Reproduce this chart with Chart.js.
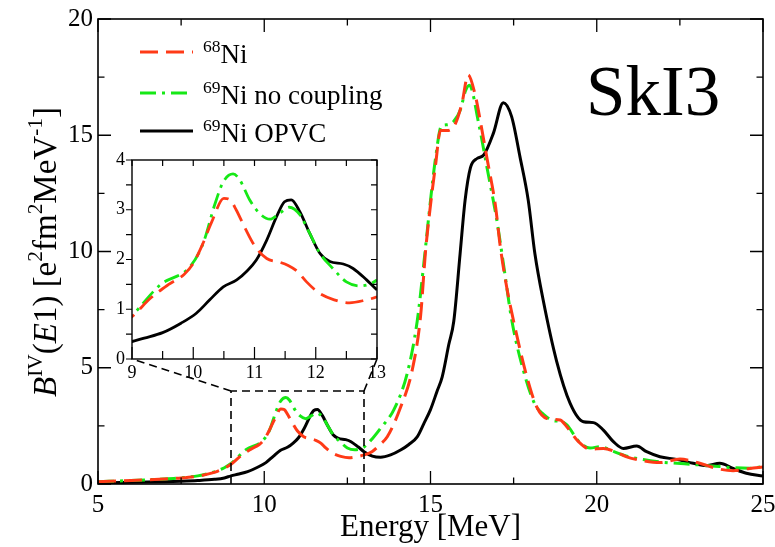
<!DOCTYPE html>
<html>
<head>
<meta charset="utf-8">
<script src="https://cdn.jsdelivr.net/npm/chart.js@4"></script>
<style>
  html, body { margin: 0; padding: 0; background: #fff; }
  #wrap { position: relative; width: 775px; height: 547px; }
  #main { position: absolute; left: 0; top: 0; }
  #inset { position: absolute; left: 100px; top: 150px; }
</style>
</head>
<body>
<div id="wrap">
  <canvas id="main" width="775" height="547"></canvas>
  <canvas id="inset" width="290" height="235"></canvas>
</div>
<script>
/* ===== DATA ===== */
// 68Ni, red dashed
const E_NI68 = [5, 6, 7, 7.5, 8, 8.5, 8.8, 9, 9.3, 9.6, 9.85, 10, 10.15, 10.3, 10.5, 10.6, 10.7, 10.85, 11, 11.2, 11.4, 11.55, 11.7, 11.85, 12.05, 12.3, 12.55, 12.8, 13, 13.25, 13.5, 13.7, 14.1, 14.45, 14.7, 14.85, 15.0, 15.15, 15.3, 15.5, 15.75, 15.95, 16.13, 16.35, 16.5, 16.7, 16.95, 17.1, 17.3, 17.5, 17.9, 18.2, 18.5, 18.9, 19.1, 19.45, 19.8, 20.2, 20.55, 20.9, 21.4, 21.9, 22.5, 23.1, 23.6, 24.1, 24.6, 25];
const B_NI68 = [0.1, 0.15, 0.22, 0.26, 0.34, 0.5, 0.68, 0.85, 1.22, 1.5, 1.7, 1.92, 2.3, 2.75, 3.23, 3.2, 3.0, 2.62, 2.28, 2.02, 1.95, 1.88, 1.76, 1.55, 1.33, 1.19, 1.13, 1.18, 1.25, 1.4, 1.72, 2.03, 3.3, 4.9, 7.2, 10.0, 12.0, 13.7, 15.2, 15.2, 15.5, 16.4, 17.6, 16.7, 15.6, 14.0, 12.0, 10.2, 8.4, 7.0, 4.6, 3.3, 2.82, 2.75, 2.46, 1.82, 1.5, 1.53, 1.39, 1.17, 1.0, 0.92, 1.07, 0.89, 0.67, 0.57, 0.67, 0.73];

// 69Ni no coupling, green dash-dot
const E_NI69_NC = [5, 6, 7, 7.5, 8, 8.5, 8.8, 9, 9.46, 9.95, 10.16, 10.35, 10.49, 10.65, 10.76, 10.92, 11.08, 11.25, 11.41, 11.57, 11.74, 11.9, 12.07, 12.28, 12.5, 12.72, 13, 13.25, 13.5, 13.9, 14.3, 14.6, 14.8, 15.0, 15.15, 15.33, 15.5, 15.7, 15.9, 16.05, 16.17, 16.45, 16.7, 17.0, 17.2, 17.45, 17.85, 18.15, 18.4, 18.7, 18.9, 19.1, 19.45, 19.8, 20.1, 20.5, 20.9, 21.4, 21.9, 22.3, 22.8, 23.3, 23.7, 24.1, 24.6, 25];
const B_NI69_NC = [0.1, 0.15, 0.22, 0.27, 0.35, 0.52, 0.7, 0.88, 1.49, 1.86, 2.32, 3.1, 3.56, 3.72, 3.6, 3.2, 2.93, 2.81, 2.93, 3.05, 2.9, 2.53, 2.12, 1.82, 1.55, 1.47, 1.59, 1.95, 2.4, 3.2, 4.76, 7.0, 9.5, 12.2, 14.0, 15.4, 15.45, 15.6, 16.1, 16.9, 17.15, 15.5, 13.6, 11.3, 9.4, 7.0, 4.6, 3.4, 3.0, 2.72, 2.7, 2.55, 1.85, 1.55, 1.6, 1.4, 1.2, 1.05, 0.95, 0.9, 0.85, 0.8, 0.75, 0.7, 0.68, 0.75];

// 69Ni OPVC, black solid
const E_NI69_OPVC = [5, 6, 7, 7.5, 8, 8.5, 8.8, 9, 9.2, 9.5, 9.8, 10.05, 10.27, 10.49, 10.71, 10.87, 11.03, 11.2, 11.36, 11.49, 11.6, 11.74, 11.9, 12.07, 12.23, 12.45, 12.61, 12.83, 13, 13.25, 13.5, 13.8, 14.1, 14.35, 14.6, 14.8, 15.0, 15.2, 15.35, 15.55, 15.7, 15.89, 16.04, 16.2, 16.4, 16.6, 16.89, 17.19, 17.44, 17.69, 17.94, 18.14, 18.39, 18.79, 19.2, 19.6, 19.9, 20.2, 20.5, 20.8, 21.2, 21.5, 21.9, 22.4, 22.9, 23.3, 23.7, 24.1, 24.5, 25];
const B_NI69_OPVC = [0.05, 0.07, 0.1, 0.12, 0.15, 0.2, 0.26, 0.35, 0.42, 0.53, 0.72, 0.92, 1.19, 1.45, 1.59, 1.76, 1.99, 2.39, 2.86, 3.16, 3.2, 2.96, 2.53, 2.12, 1.96, 1.91, 1.82, 1.59, 1.39, 1.2, 1.15, 1.25, 1.46, 1.7, 2.03, 2.6, 3.2, 4.0, 4.6, 6.0, 7.0, 9.9, 12.2, 13.6, 14.0, 14.15, 15.08, 16.4, 15.8, 14.08, 12.2, 9.9, 7.9, 5.3, 3.47, 2.68, 2.64, 2.32, 1.82, 1.53, 1.63, 1.39, 1.17, 1.06, 0.89, 0.79, 0.89, 0.67, 0.46, 0.34];

// axes
const MAIN_X_TICKS = [5, 10, 15, 20, 25];
const MAIN_Y_TICKS = [0, 5, 10, 15, 20];
const INSET_X_TICKS = [9, 10, 11, 12, 13];
const INSET_Y_TICKS = [0, 1, 2, 3, 4];
const ZOOM_BOX = { xMin: 9, xMax: 13, yMin: 0, yMax: 4 };

/* ===== STYLE ===== */
const SERIF = '"Liberation Serif", "Times New Roman", Times, serif';
const RED = "#ff3a17";
const GREEN = "#16e816";
const BLACK = "#000000";
const DASH_RED = [18, 8];
const DASH_GREEN = [16, 6, 3, 6];

function pts(xs, ys) {
  return xs.map((x, i) => ({ x, y: ys[i] }));
}

function makeDatasets(lw) {
  return [
    { label: "68Ni", data: pts(E_NI68, B_NI68), borderColor: RED, borderDash: DASH_RED, borderWidth: lw },
    { label: "69Ni no coupling", data: pts(E_NI69_NC, B_NI69_NC), borderColor: GREEN, borderDash: DASH_GREEN, borderWidth: lw },
    { label: "69Ni OPVC", data: pts(E_NI69_OPVC, B_NI69_OPVC), borderColor: BLACK, borderWidth: lw },
  ].map((d) => Object.assign(d, { pointRadius: 0, fill: false, cubicInterpolationMode: "monotone" }));
}

/* ===== HELPERS ===== */
// draw text made of parts: {t, sup, it}; align 'left' or 'center'
function richWidth(ctx, parts, size) {
  let w = 0;
  parts.forEach((p) => {
    const s = p.sup ? size * 0.65 : size;
    ctx.font = (p.it ? "italic " : "") + s + "px " + SERIF;
    w += ctx.measureText(p.t).width;
  });
  return w;
}
function drawRich(ctx, parts, x, y, size, align) {
  let cx = align === "center" ? x - richWidth(ctx, parts, size) / 2 : x;
  ctx.textBaseline = "alphabetic";
  ctx.textAlign = "left";
  parts.forEach((p) => {
    const s = p.sup ? size * 0.65 : size;
    ctx.font = (p.it ? "italic " : "") + s + "px " + SERIF;
    ctx.fillText(p.t, cx, p.sup ? y - size * 0.42 : y);
    cx += ctx.measureText(p.t).width;
  });
}

/* ===== MAIN DECORATIONS ===== */
const mainDecor = {
  id: "mainDecor",
  afterDraw(chart) {
    const { ctx, chartArea: a, scales } = chart;
    const xs = scales.x, ys = scales.y;
    ctx.save();
    ctx.fillStyle = "#000";
    ctx.strokeStyle = "#000";

    // frame
    ctx.lineWidth = 1.6;
    ctx.strokeRect(a.left, a.top, a.right - a.left, a.bottom - a.top);

    // inward ticks
    ctx.lineWidth = 1.3;
    ctx.beginPath();
    for (let v = 5; v <= 25; v += 2.5) {
      const px = xs.getPixelForValue(v);
      const len = v % 5 === 0 ? 13 : 6.5;
      ctx.moveTo(px, a.bottom); ctx.lineTo(px, a.bottom - len);
      ctx.moveTo(px, a.top); ctx.lineTo(px, a.top + len);
    }
    for (let v = 0; v <= 20; v += 2.5) {
      const py = ys.getPixelForValue(v);
      const len = v % 5 === 0 ? 13 : 6.5;
      ctx.moveTo(a.left, py); ctx.lineTo(a.left + len, py);
      ctx.moveTo(a.right, py); ctx.lineTo(a.right - len, py);
    }
    ctx.stroke();

    // tick labels
    ctx.font = "25px " + SERIF;
    ctx.textAlign = "center";
    ctx.textBaseline = "alphabetic";
    MAIN_X_TICKS.forEach((v) => ctx.fillText(String(v), xs.getPixelForValue(v), 512));
    ctx.textAlign = "right";
    ctx.textBaseline = "middle";
    MAIN_Y_TICKS.forEach((v) => ctx.fillText(String(v), 93, ys.getPixelForValue(v)));

    // axis titles
    ctx.font = "31px " + SERIF;
    ctx.textAlign = "center";
    ctx.textBaseline = "alphabetic";
    ctx.fillText("Energy [MeV]", (a.left + a.right) / 2, 536);

    ctx.save();
    ctx.translate(56, 252);
    ctx.rotate(-Math.PI / 2);
    drawRich(ctx, [
      { t: "B", it: true }, { t: "IV", sup: true }, { t: "(" }, { t: "E", it: true },
      { t: "1) [e" }, { t: "2", sup: true }, { t: "fm" }, { t: "2", sup: true },
      { t: "MeV" }, { t: "-1", sup: true }, { t: "]" },
    ], 0, 0, 33, "center");
    ctx.restore();

    // SkI3 label
    ctx.font = "71px " + SERIF;
    ctx.textAlign = "left";
    ctx.fillText("SkI3", 586, 115);

    // legend
    const rows = [
      { y: 52, color: RED, dash: DASH_RED, parts: [{ t: "68", sup: true }, { t: "Ni" }] },
      { y: 93, color: GREEN, dash: DASH_GREEN, parts: [{ t: "69", sup: true }, { t: "Ni no coupling" }] },
      { y: 131, color: BLACK, dash: [], parts: [{ t: "69", sup: true }, { t: "Ni OPVC" }] },
    ];
    rows.forEach((r) => {
      ctx.save();
      ctx.strokeStyle = r.color;
      ctx.lineWidth = 3;
      ctx.setLineDash(r.dash);
      ctx.beginPath();
      ctx.moveTo(140, r.y); ctx.lineTo(193, r.y);
      ctx.stroke();
      ctx.restore();
      drawRich(ctx, r.parts, 203, r.y + 11, 27, "left");
    });

    // zoom box and connectors
    const bx0 = xs.getPixelForValue(ZOOM_BOX.xMin), bx1 = xs.getPixelForValue(ZOOM_BOX.xMax);
    const by0 = ys.getPixelForValue(ZOOM_BOX.yMin), by1 = ys.getPixelForValue(ZOOM_BOX.yMax);
    ctx.setLineDash([8, 5]);
    ctx.lineWidth = 1.6;
    ctx.beginPath();
    ctx.moveTo(bx0, by0); ctx.lineTo(bx0, by1); ctx.lineTo(bx1, by1); ctx.lineTo(bx1, by0);
    ctx.moveTo(bx0, by1); ctx.lineTo(INSET_BOX.left, INSET_BOX.bottom);
    ctx.moveTo(bx1, by1); ctx.lineTo(INSET_BOX.right, INSET_BOX.bottom);
    ctx.stroke();
    ctx.restore();
  },
};

/* ===== INSET DECORATIONS ===== */
// inset plot area in page pixels (canvas placed at 100,150)
const INSET_BOX = { left: 132, top: 160, right: 377, bottom: 359 };

const insetDecor = {
  id: "insetDecor",
  beforeDatasetsDraw(chart) {
    const { ctx, chartArea: a } = chart;
    ctx.save();
    ctx.fillStyle = "#fff";
    ctx.fillRect(a.left, a.top, a.right - a.left, a.bottom - a.top);
    ctx.restore();
  },
  afterDraw(chart) {
    const { ctx, chartArea: a, scales } = chart;
    const xs = scales.x, ys = scales.y;
    ctx.save();
    ctx.strokeStyle = "#000";
    ctx.fillStyle = "#000";
    ctx.lineWidth = 1.4;
    ctx.strokeRect(a.left, a.top, a.right - a.left, a.bottom - a.top);

    ctx.lineWidth = 1.2;
    ctx.beginPath();
    for (let v = 9; v <= 13.001; v += 0.5) {
      const px = xs.getPixelForValue(v);
      const major = Math.abs(v - Math.round(v)) < 1e-6;
      ctx.moveTo(px, a.bottom); ctx.lineTo(px, a.bottom - (major ? 12 : 8));
      ctx.moveTo(px, a.top); ctx.lineTo(px, a.top + 6);
    }
    for (let v = 0; v <= 4.001; v += 0.5) {
      const py = ys.getPixelForValue(v);
      ctx.moveTo(a.left, py); ctx.lineTo(a.left - 6, py);
      ctx.moveTo(a.right, py); ctx.lineTo(a.right - 6, py);
    }
    ctx.stroke();

    ctx.font = "18px " + SERIF;
    ctx.textAlign = "center";
    ctx.textBaseline = "alphabetic";
    INSET_X_TICKS.forEach((v) => ctx.fillText(String(v), xs.getPixelForValue(v), a.bottom + 19));
    ctx.textAlign = "right";
    ctx.textBaseline = "middle";
    INSET_Y_TICKS.forEach((v) => ctx.fillText(String(v), a.left - 7, ys.getPixelForValue(v)));
    ctx.restore();
  },
};

/* ===== CHARTS ===== */
const hiddenScales = (xMin, xMax, yMin, yMax) => ({
  x: { type: "linear", min: xMin, max: xMax, display: false },
  y: { type: "linear", min: yMin, max: yMax, display: false },
});

new Chart(document.getElementById("main"), {
  type: "line",
  data: { datasets: makeDatasets(3) },
  options: {
    responsive: false,
    animation: false,
    devicePixelRatio: 1,
    layout: { padding: { left: 98, top: 19, right: 12, bottom: 63 } },
    scales: hiddenScales(5, 25, 0, 20),
    plugins: { legend: { display: false }, tooltip: { enabled: false } },
  },
  plugins: [mainDecor],
});

new Chart(document.getElementById("inset"), {
  type: "line",
  data: { datasets: makeDatasets(2.8) },
  options: {
    responsive: false,
    animation: false,
    devicePixelRatio: 1,
    layout: { padding: { left: 32, top: 10, right: 13, bottom: 26 } },
    scales: hiddenScales(ZOOM_BOX.xMin, ZOOM_BOX.xMax, ZOOM_BOX.yMin, ZOOM_BOX.yMax),
    plugins: { legend: { display: false }, tooltip: { enabled: false } },
  },
  plugins: [insetDecor],
});
</script>
</body>
</html>
